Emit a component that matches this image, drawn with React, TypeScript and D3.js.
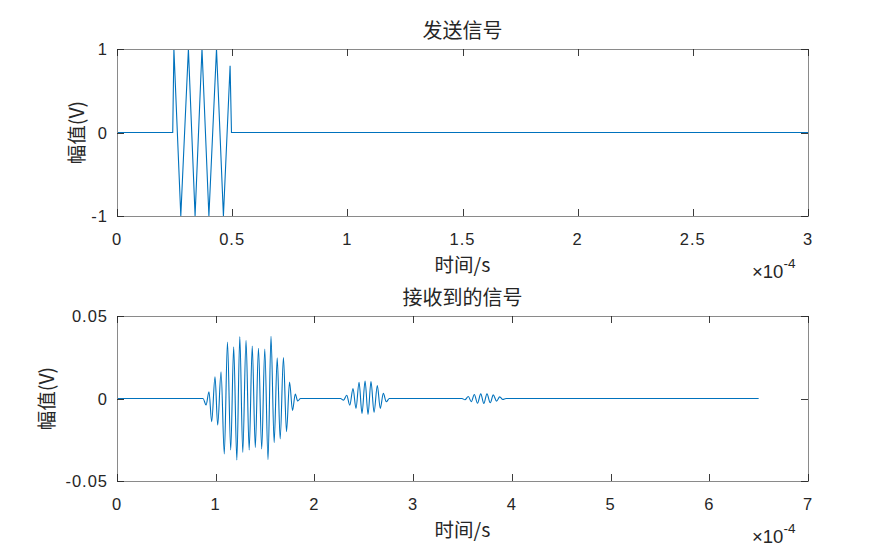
import React from 'react';
import * as d3 from 'd3';

// Time axis values are in units of 1e-4 s (the axes carry a ×10^-4 multiplier).

// Transmitted pulse: vertices of the sampled tone burst
const sentT = [0, 0.242, 0.247, 0.277, 0.310, 0.339, 0.369, 0.399, 0.432, 0.462, 0.491, 0.497, 3];
const sentV = [0, 0, 1, -1, 1, -1, 1, -1, 1, -1, 0.8, 0, 0];

// Received signal: extrema of the three echoes [time, volts]
const echo1: [number, number][] = [
  [0.872, 0], [0.902, -0.0039], [0.932, 0.0041], [0.959, -0.0141], [0.993, 0.0132],
  [1.020, -0.0161], [1.054, 0.0162], [1.087, -0.0336], [1.119, 0.0342], [1.152, -0.0312],
  [1.182, 0.0314], [1.214, -0.0373], [1.244, 0.0376], [1.274, -0.0327], [1.307, 0.0352],
  [1.339, -0.0312], [1.370, 0.0318], [1.401, -0.0297], [1.433, 0.0304], [1.466, -0.0306],
  [1.497, 0.0300], [1.530, -0.0371], [1.560, 0.0377], [1.592, -0.0267], [1.623, 0.0247],
  [1.653, -0.0245], [1.686, 0.0248], [1.717, -0.0201], [1.748, 0.0100], [1.778, -0.0073],
  [1.806, 0.0027], [1.831, -0.0015], [1.859, 0],
];
const echo2: [number, number][] = [
  [2.264, 0], [2.295, -0.0010], [2.327, 0.0020], [2.358, -0.0040], [2.391, 0.0060],
  [2.421, -0.0060], [2.452, 0.0098], [2.482, -0.0090], [2.513, 0.0106], [2.543, -0.0096],
  [2.573, 0.0102], [2.604, -0.0084], [2.637, 0.0078], [2.667, -0.0060], [2.698, 0.0031],
  [2.728, -0.0020], [2.759, 0],
];
const echo3: [number, number][] = [
  [3.495, 0], [3.525, -0.0008], [3.559, 0.0012], [3.589, -0.0020], [3.620, 0.0024],
  [3.652, -0.0028], [3.685, 0.0028], [3.716, -0.0030], [3.748, 0.0028], [3.781, -0.0026],
  [3.812, 0.0022], [3.845, -0.0016], [3.877, 0.0010], [3.908, -0.0006], [3.941, 0],
];
const recvStart = 0;
const recvEnd = 6.5;

const sentXTicks = [0, 0.5, 1, 1.5, 2, 2.5, 3];
const sentYTicks = [-1, 0, 1];
const recvXTicks = [0, 1, 2, 3, 4, 5, 6, 7];
const recvYTicks = [-0.05, 0, 0.05];

const W = 893;
const H = 560;
const LINE = '#0072BD';
const AXIS = '#262626';
const NUM_FONT = '"Liberation Sans", Arial, sans-serif';
const CJK_FONT = '"Noto Sans CJK SC", "Liberation Sans", sans-serif';

type PanelProps = {
  top: number;
  bottom: number;
  left: number;
  right: number;
  xDomain: [number, number];
  yDomain: [number, number];
  xTicks: number[];
  yTicks: number[];
  points: [number, number][];
  smooth: boolean;
  title: string;
  ylabelX: number;
};

function Panel(p: PanelProps) {
  const x = d3.scaleLinear().domain(p.xDomain).range([p.left, p.right]);
  const y = d3.scaleLinear().domain(p.yDomain).range([p.bottom, p.top]);
  const line = d3
    .line<[number, number]>()
    .x((d) => x(d[0]))
    .y((d) => y(d[1]))
    .curve(p.smooth ? d3.curveMonotoneX : d3.curveLinear);
  const tl = 7;
  const cx = (p.left + p.right) / 2;
  const cy = (p.top + p.bottom) / 2;
  return (
    <g>
      <defs>
        <clipPath id={`clip-${p.top}`}>
          <rect x={p.left} y={p.top - 1} width={p.right - p.left} height={p.bottom - p.top + 2} />
        </clipPath>
      </defs>
      <path
        d={line(p.points) || ''}
        fill="none"
        stroke={LINE}
        strokeWidth={1.1}
        clipPath={`url(#clip-${p.top})`}
      />
      <rect
        x={p.left + 0.5}
        y={p.top + 0.5}
        width={p.right - p.left}
        height={p.bottom - p.top}
        fill="none"
        stroke="#8a8a8a"
        strokeWidth={1}
      />
      {p.xTicks.map((t) => {
        const xx = Math.round(x(t)) + 0.5;
        return (
          <g key={`xt${t}`}>
            <line x1={xx} x2={xx} y1={p.bottom} y2={p.bottom - tl} stroke={AXIS} strokeWidth={0.9} />
            <line x1={xx} x2={xx} y1={p.top} y2={p.top + tl} stroke={AXIS} strokeWidth={0.9} />
            <text
              x={x(t)}
              y={p.bottom + 29}
              textAnchor="middle"
              fontFamily={NUM_FONT}
              fontSize={16.5}
              letterSpacing={1}
              fill={AXIS}
            >
              {String(t)}
            </text>
          </g>
        );
      })}
      {p.yTicks.map((t) => {
        const yy = Math.round(y(t)) + 0.5;
        return (
          <g key={`yt${t}`}>
            <line x1={p.left} x2={p.left + tl} y1={yy} y2={yy} stroke={AXIS} strokeWidth={0.9} />
            <line x1={p.right} x2={p.right - tl} y1={yy} y2={yy} stroke={AXIS} strokeWidth={0.9} />
            <text
              x={p.left - 9}
              y={y(t) + 6}
              textAnchor="end"
              fontFamily={NUM_FONT}
              fontSize={16.5}
              letterSpacing={1}
              fill={AXIS}
            >
              {String(t)}
            </text>
          </g>
        );
      })}
      <text x={cx} y={p.top - 11} textAnchor="middle" fontFamily={CJK_FONT} fontSize={20} fill={AXIS}>
        {p.title}
      </text>
      <text x={cx} y={p.bottom + 56} textAnchor="middle" fontFamily={CJK_FONT} fontSize={19.5} fill={AXIS}>
        时间/s
      </text>
      <text
        transform={`translate(${p.ylabelX},${cy}) rotate(-90)`}
        textAnchor="middle"
        dominantBaseline="central"
        fontFamily={CJK_FONT}
        fontSize={19.5}
        fill={AXIS}
      >
        幅值(V)
      </text>
      <text x={752} y={p.bottom + 62} fontFamily={NUM_FONT} fontSize={18.5} fill={AXIS}>
        <tspan>×10</tspan>
        <tspan dy={-10} fontSize={13.5}>-4</tspan>
      </text>
    </g>
  );
}

export default function App() {
  const sentPoints: [number, number][] = sentT.map((t, i) => [t, sentV[i]]);
  const recvPoints: [number, number][] = [
    [recvStart, 0],
    ...echo1,
    ...echo2,
    ...echo3,
    [recvEnd, 0],
  ];
  return (
    <svg
      width={W}
      height={H}
      viewBox={`0 0 ${W} ${H}`}
      style={{ position: 'absolute', left: 0, top: 0, background: '#fff', display: 'block' }}
    >
      <rect width={W} height={H} fill="#fff" />
      <Panel
        top={49}
        bottom={216}
        left={117}
        right={808}
        xDomain={[0, 3]}
        yDomain={[-1, 1]}
        xTicks={sentXTicks}
        yTicks={sentYTicks}
        points={sentPoints}
        smooth={false}
        title="发送信号"
        ylabelX={75}
      />
      <Panel
        top={316}
        bottom={481}
        left={117}
        right={808}
        xDomain={[0, 7]}
        yDomain={[-0.05, 0.05]}
        xTicks={recvXTicks}
        yTicks={recvYTicks}
        points={recvPoints}
        smooth={true}
        title="接收到的信号"
        ylabelX={45}
      />
    </svg>
  );
}
